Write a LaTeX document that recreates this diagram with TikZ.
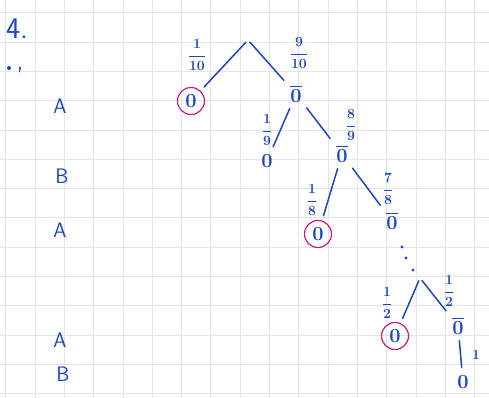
\documentclass[tikz,border=0pt]{standalone}
\usepackage{amsmath}
\usepackage{fix-cm}
\usetikzlibrary{calc}
\definecolor{ink}{RGB}{30,70,190}
\definecolor{mag}{RGB}{195,30,135}
\definecolor{gridc}{RGB}{228,228,228}
\tikzset{
  branch/.style={draw=ink, line width=1.5pt, line cap=round, shorten <=3pt, shorten >=5pt},
  leaf/.style={text=ink, inner sep=3pt, font=\fontsize{20}{22}\selectfont\boldmath},
  hit/.style={leaf, circle, draw=mag, line width=1.2pt, minimum size=27pt, inner sep=0pt},
  prob/.style={text=ink, inner sep=0pt, font=\fontsize{14}{16}\selectfont\boldmath},
  side/.style={text=ink, inner sep=0pt, font=\fontsize{21}{23}\selectfont\sffamily},
}
\begin{document}
\begin{tikzpicture}[x=1pt,y=-1pt]
\useasboundingbox (0,0) rectangle (489,398);
\fill[white] (0,0) rectangle (489,398);
% grid paper
\foreach \k in {0,...,16} {
  \draw[gridc, line width=0.7pt] ({5.7+29.3*\k},0) -- ({5.7+29.3*\k},398);
}
\foreach \k in {0,...,13} {
  \draw[gridc, line width=0.7pt] (0,{12.7+29.3*\k}) -- (489,{12.7+29.3*\k});
}
% side texts
\node[side, font=\fontsize{30}{32}\selectfont\sffamily] (t4) at (17,29) {4.};
\fill[ink] (9,68) circle (2pt);
\node[side, font=\fontsize{26}{28}\selectfont\sffamily] (comma) at (20,70) {,};
\node[side] (a1) at (60,106) {A};
\node[side] (b1) at (62,176) {B};
\node[side] (a2) at (60,230) {A};
\node[side] (a3) at (60,340) {A};
\node[side] (b2) at (63,374) {B};
% tree nodes
\coordinate (root) at (248,40);
\node[hit]  (n1) at (191,101) {$0$};
\node[leaf] (n2) at (296,94) {$\overline{0}$};
\node[leaf] (n3) at (267,161) {$0$};
\node[leaf] (n4) at (342,154) {$\overline{0}$};
\node[hit]  (n5) at (318,234) {$0$};
\node[leaf] (n6) at (392,221) {$\overline{0}$};
\coordinate (s) at (420,278);
\node[hit]  (n8) at (395,336) {$0$};
\node[leaf] (n9) at (458,326) {$\overline{0}$};
\node[leaf] (n10) at (463,382) {$0$};
% dots
\fill[ink] (402,247) circle (1.6pt);
\fill[ink] (406,258) circle (1.6pt);
\fill[ink] (413,270) circle (1.6pt);
% branches
\draw[branch] (root) -- (n1);
\draw[branch] (root) -- (n2);
\draw[branch] (n2) -- (n3);
\draw[branch] (n2) -- (n4);
\draw[branch] (n4) -- (n5);
\draw[branch] (n4) -- (n6);
\draw[branch] (s) -- (n8);
\draw[branch] (s) -- (n9);
\draw[branch] (n9) -- (n10);
% probabilities
\node[prob] (p1) at (197,55) {$\dfrac{1}{10}$};
\node[prob] (p2) at (299,53) {$\dfrac{9}{10}$};
\node[prob] (p3) at (267,130) {$\dfrac{1}{9}$};
\node[prob] (p4) at (351,125) {$\dfrac{8}{9}$};
\node[prob] (p5) at (312,200) {$\dfrac{1}{8}$};
\node[prob] (p6) at (388,189) {$\dfrac{7}{8}$};
\node[prob] (p7) at (387,303) {$\dfrac{1}{2}$};
\node[prob] (p8) at (449,291) {$\dfrac{1}{2}$};
\node[prob] (p9) at (476,355) {$1$};
\end{tikzpicture}
\end{document}
